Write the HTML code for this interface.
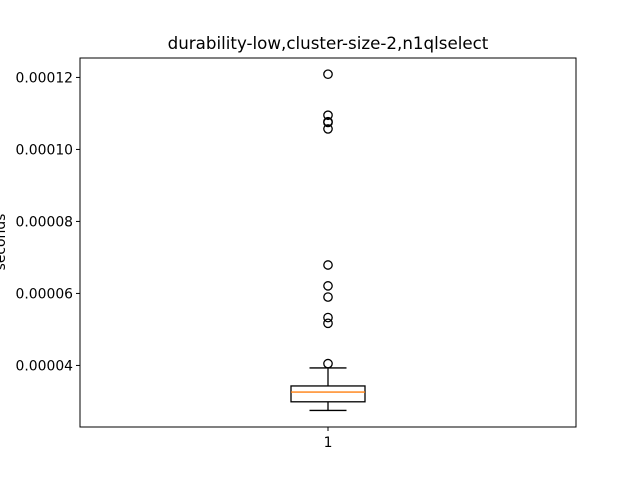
<!DOCTYPE html>
<html><head><meta charset="utf-8"><style>
body{margin:0;background:#fff}
svg text{font-family:"DejaVu Sans","Liberation Sans",sans-serif;fill:#000}
</style></head><body>
<svg width="640" height="480">
<g id="g"></g>
</svg>
<script>
const categories=["1"];
const whiskerLow=[0.0000275];
const q1=[0.0000299];
const median=[0.0000326];
const q3=[0.0000343];
const whiskerHigh=[0.0000393];
const outliers=[[0.0001209,0.0001095,0.0001077,0.0001075,0.0001057,0.0000679,0.0000621,0.000059,0.0000533,0.0000517,0.0000405]];
const yTicks=[0.00004,0.00006,0.00008,0.0001,0.00012];
const yTickLabels=["0.00004","0.00006","0.00008","0.00010","0.00012"];
const L=80,R=576,T=58,B=427,yMin=0.0000229,yMax=0.0001254;
const y=v=>B-(v-yMin)/(yMax-yMin)*(B-T);
const x=i=>L+(R-L)*(i+0.5)/categories.length;
const g=document.getElementById('g');
const NS="http://www.w3.org/2000/svg";
function mk(t,a,txt){const e=document.createElementNS(NS,t);for(const k in a)e.setAttribute(k,a[k]);if(txt!==undefined)e.textContent=txt;g.appendChild(e);return e;}
let e=mk('rect',{x:L,y:T,width:R-L,height:B-T,fill:'none',stroke:'#000','stroke-width':1});


e=mk('text',{x:328,y:49,'text-anchor':'middle','font-size':16.7},'durability-low,cluster-size-2,n1qlselect');


e=mk('text',{x:5,y:242,'text-anchor':'middle','font-size':13.9,transform:'rotate(-90 5 242)'},'seconds');


yTicks.forEach((v,i)=>{
  e=mk('line',{x1:L-4,x2:L,y1:y(v),y2:y(v),stroke:'#000'});
  
  
  e=mk('text',{x:L-7,y:y(v)+5,'text-anchor':'end','font-size':13.9},yTickLabels[i]);
  
  
});
categories.forEach((c,i)=>{
  const cx=x(i),hw=37,cw=18.5;
  e=mk('line',{x1:cx,x2:cx,y1:B,y2:B+4,stroke:'#000'});
  
  
  e=mk('text',{x:cx,y:B+20,'text-anchor':'middle','font-size':13.9},c);
  
  
  e=mk('line',{x1:cx,x2:cx,y1:y(whiskerLow[i]),y2:y(q1[i]),stroke:'#000','stroke-width':1.3});
  
  
  e=mk('line',{x1:cx,x2:cx,y1:y(q3[i]),y2:y(whiskerHigh[i]),stroke:'#000','stroke-width':1.3});
  
  
  e=mk('line',{x1:cx-cw,x2:cx+cw,y1:y(whiskerLow[i]),y2:y(whiskerLow[i]),stroke:'#000','stroke-width':1.3});
  
  
  e=mk('line',{x1:cx-cw,x2:cx+cw,y1:y(whiskerHigh[i]),y2:y(whiskerHigh[i]),stroke:'#000','stroke-width':1.3});
  
  
  e=mk('rect',{x:cx-hw,y:y(q3[i]),width:2*hw,height:y(q1[i])-y(q3[i]),fill:'none',stroke:'#000','stroke-width':1.3});
  
  
  e=mk('line',{x1:cx-hw,x2:cx+hw,y1:y(median[i]),y2:y(median[i]),stroke:'#ff7f0e','stroke-width':1.3});
  
  
  outliers[i].forEach(v=>{
    e=mk('circle',{cx:cx,cy:y(v),r:4.2,fill:'none',stroke:'#000','stroke-width':1.3});
    
    
  });
});
</script>
</body></html>
